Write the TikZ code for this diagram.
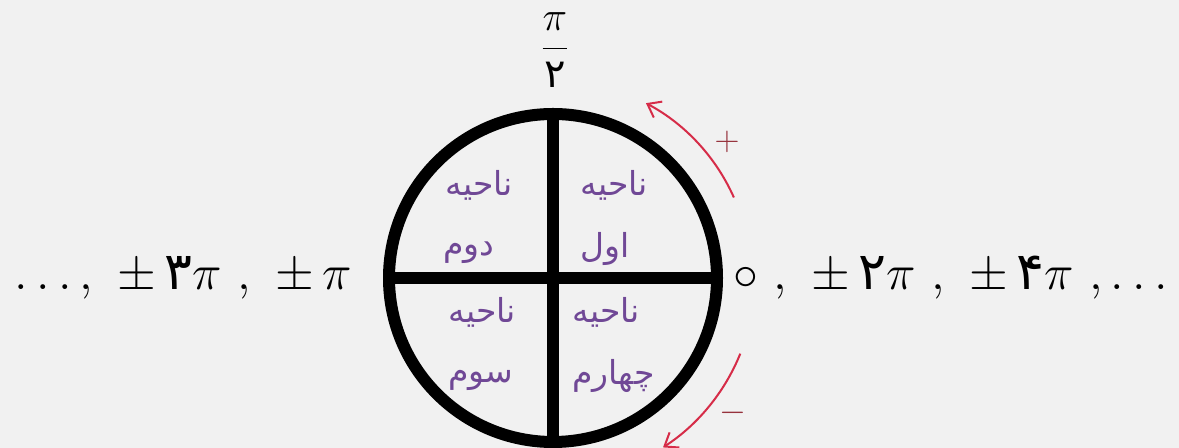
\documentclass[tikz,border=0pt]{standalone}
\usepackage{amsmath,amssymb}
\usepackage{xcolor}
\usepackage{fontspec}
\newfontfamily\arabicfont[Script=Arabic]{DejaVu Sans}
\TeXXeTstate=1
\usepackage{tikz}
\usetikzlibrary{arrows.meta}

\definecolor{bgcol}{RGB}{241,241,241}
\definecolor{quadcol}{RGB}{112,72,150}
\definecolor{arrowcol}{RGB}{214,44,72}
\definecolor{signcol}{RGB}{150,50,60}
\newcommand{\fadig}[1]{\mbox{\arabicfont #1}}
\newcommand{\fatext}[1]{{\arabicfont\beginR #1\endR}}

\begin{document}
\begin{tikzpicture}[
    x=0.5pt, y=0.5pt,
    wheel/.style ={line width=6pt},
    quadlbl/.style={font=\fontsize{16.5}{19}\selectfont, text=quadcol, inner sep=0pt, anchor=base west},
    anglbl/.style ={font=\fontsize{26}{30}\selectfont, inner sep=0pt},
    turn/.style   ={arrowcol, line width=1pt, -{Straight Barb[length=6pt, width=9pt]}},
    signlbl/.style={font=\fontsize{19}{22}\selectfont, text=signcol, inner sep=0pt}
]
% Background and page size
\fill[bgcol] (0,0) rectangle (1179,448);
\useasboundingbox (0,0) rectangle (1179,448);

% Circle and axes
\coordinate (O) at (553,170);
\draw[wheel] (O) circle[radius=164];
\draw[wheel] ([xshift=-82pt]O) -- ([xshift=82pt]O);
\draw[wheel] ([yshift=82pt]O) -- ([yshift=-82pt]O);

% Angle labels
\node[anglbl, anchor=base east] (west) at (352,158)
     {$\ldots,\ \pm\,\fadig{۳}\pi\ ,\ \pm\,\pi$};
\node[anglbl, anchor=base west] (east) at (733,158)
     {$\circ\ ,\ \pm\,\fadig{۲}\pi\ ,\ \pm\,\fadig{۴}\pi\ ,\ldots$};
\node[font=\fontsize{20}{24}\selectfont, inner sep=0pt] (north) at (555,398)
     {$\displaystyle\frac{\pi}{\fadig{۲}}$};

% Quadrant names
\node[quadlbl] (q1a) at (580,252) {\fatext{ناحیه}};
\node[quadlbl] (q1b) at (580,190) {\fatext{اول}};
\node[quadlbl] (q2a) at (445,252) {\fatext{ناحیه}};
\node[quadlbl] (q2b) at (443,192) {\fatext{دوم}};
\node[quadlbl] (q3a) at (448,125) {\fatext{ناحیه}};
\node[quadlbl] (q3b) at (448,65)  {\fatext{سوم}};
\node[quadlbl] (q4a) at (572,125) {\fatext{ناحیه}};
\node[quadlbl] (q4b) at (572,63)  {\fatext{چهارم}};

% Direction of rotation
\draw[turn] ([shift={(24:198)}]O) arc[start angle=24, end angle=62, radius=198];
\node[signlbl] (plus) at (727,306) {$+$};
\draw[turn] ([shift={(-22:202)}]O) arc[start angle=-22, end angle=-57, radius=202];
\node[signlbl] (minus) at (733,35) {$-$};
\end{tikzpicture}
\end{document}
